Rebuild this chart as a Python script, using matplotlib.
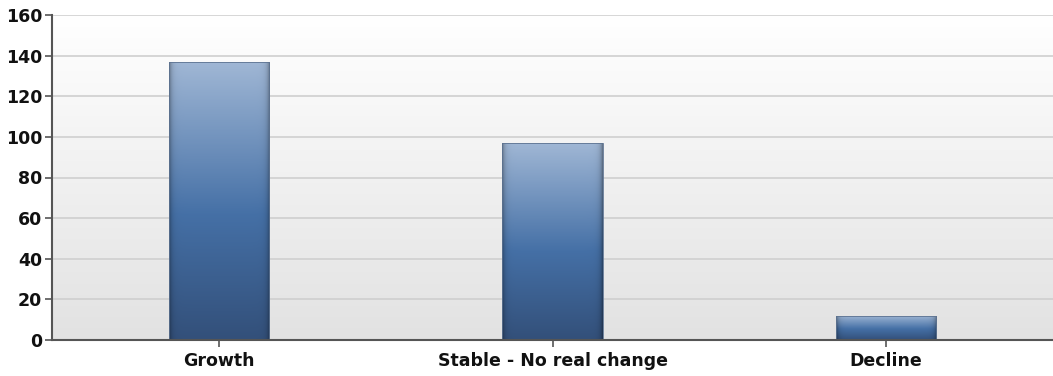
import numpy as np
import matplotlib
matplotlib.use('Agg')
import matplotlib.pyplot as plt
from matplotlib.colors import LinearSegmentedColormap

categories = ['Growth', 'Stable - No real change', 'Decline']
counts = [137, 97, 12]
yticks = [0, 20, 40, 60, 80, 100, 120, 140, 160]

plt.rcParams['font.family'] = ['DejaVu Sans']

fig = plt.figure(figsize=(10.53, 3.76), dpi=100)
ax = fig.add_axes([52 / 1053, 36 / 376, 1 - 52 / 1053, 325 / 376])

xlim = (-0.5, 2.5)
ylim = (0, 160)
ax.set_xlim(*xlim)
ax.set_ylim(*ylim)

# plot area background: white at top fading to light grey
bg = np.linspace(0, 1, 256).reshape(-1, 1)
bg_cmap = LinearSegmentedColormap.from_list('bg', ['#ffffff', '#e2e2e2'])
ax.imshow(bg, cmap=bg_cmap, extent=(*xlim, *ylim), aspect='auto',
          origin='upper', zorder=0)

ax.set_yticks(yticks)
ax.grid(axis='y', color='#cfcfcf', linewidth=1.2, zorder=1)
ax.set_axisbelow(True)

bar_cmap = LinearSegmentedColormap.from_list(
    'bar', [(0, '#a0b7d5'), (0.55, '#4570a6'), (1, '#33507a')])

width = 0.3
bars = ax.bar(range(len(categories)), counts, width=width,
              color='none', edgecolor='none', zorder=2)

for rect, val in zip(bars, counts):
    x0 = rect.get_x()
    x1 = x0 + rect.get_width()
    # each bar runs light at its top to dark at its base
    t = np.linspace(0, 1, 200)
    rgb = bar_cmap(t)[:, :3]
    # darker rims on left and right
    xs = np.linspace(0, 1, 100)
    edge = np.minimum(xs, 1 - xs)
    shade = 1 - 0.35 * np.exp(-edge / 0.025)
    img = rgb[:, None, :] * shade[None, :, None]
    im = ax.imshow(img, extent=(x0, x1, 0, val), aspect='auto',
                   origin='upper', zorder=2, interpolation='bilinear')
    im.set_clip_path(rect)
    ax.add_patch(plt.Rectangle((x0, 0), x1 - x0, val, fill=False,
                               edgecolor='#5d7391', linewidth=0.6, zorder=3))

ax.set_xticks(range(len(categories)))
ax.set_xticklabels(categories)

for s in ['top', 'right']:
    ax.spines[s].set_visible(False)
for s in ['left', 'bottom']:
    ax.spines[s].set_color('#555555')
    ax.spines[s].set_linewidth(1.5)
    ax.spines[s].set_zorder(4)

ax.tick_params(axis='both', colors='#555555', length=5, width=1.2,
               labelcolor='#111111', labelsize=12.5)
for lbl in ax.get_xticklabels() + ax.get_yticklabels():
    lbl.set_fontweight('bold')
ax.tick_params(axis='y', pad=2)
ax.tick_params(axis='x', pad=4)

fig.savefig('out.png', dpi=100)
